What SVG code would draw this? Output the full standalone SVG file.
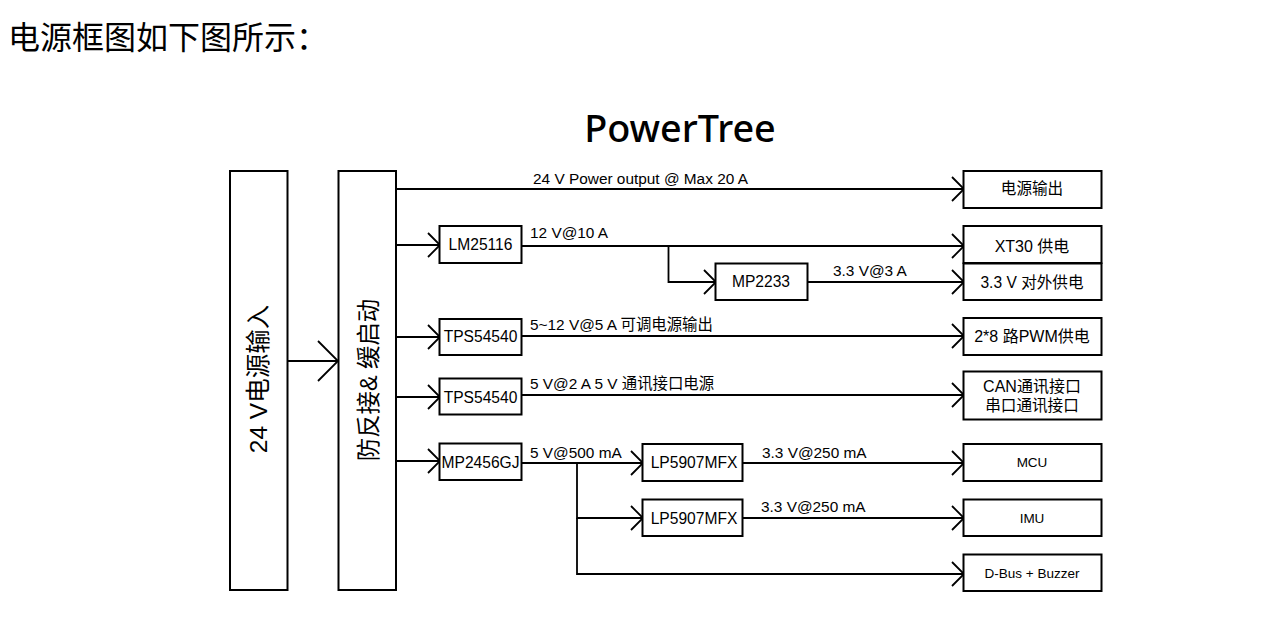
<svg xmlns="http://www.w3.org/2000/svg" width="1264" height="638" viewBox="0 0 1264 638">
<style>
text{font-family:"Liberation Sans","Noto Sans CJK SC",sans-serif;fill:#000}
.b{fill:#fff;stroke:#000;stroke-width:2}
.c{fill:none;stroke:#000;stroke-width:1.8;marker-end:url(#a)}
.n{font-size:15.6px;text-anchor:middle}
.s{font-size:13.5px;text-anchor:middle}
.t{font-size:15.4px}
</style>
<defs>
<marker id="a" markerWidth="16" markerHeight="28" refX="14" refY="14" orient="auto" markerUnits="userSpaceOnUse"><path d="M2 2L14 14L2 26" fill="none" stroke="#000" stroke-width="1.8"/></marker>
<marker id="big" markerWidth="24" markerHeight="44" refX="22" refY="22" orient="auto" markerUnits="userSpaceOnUse"><path d="M2 2L22 22L2 42" fill="none" stroke="#000" stroke-width="1.8"/></marker>
</defs>
<rect width="1264" height="638" fill="#fff"/>
<text x="8" y="49" font-size="32" style="font-family:'Noto Sans CJK SC',sans-serif">电源框图如下图所示：</text>
<text x="680" y="142" font-size="37.800" text-anchor="middle" font-weight="500" style="font-family:'Noto Sans','Noto Sans CJK SC',sans-serif">PowerTree</text>
<g id="connectors">
<path class="c" style="marker-end:url(#big)" d="M288 361H338"/>
<path class="c" d="M397 189H964"/>
<path class="c" d="M397 245H440"/>
<path class="c" d="M522 246H964"/>
<path class="c" d="M668.500 246V282H716"/>
<path class="c" d="M808 282H964"/>
<path class="c" d="M397 337H440"/>
<path class="c" d="M522 336H964"/>
<path class="c" d="M397 397H440"/>
<path class="c" d="M522 395H964"/>
<path class="c" d="M397 461H440"/>
<path class="c" d="M522 463H643"/>
<path class="c" d="M743 463H964"/>
<path class="c" d="M577 463V518H643"/>
<path class="c" d="M743 518H964"/>
<path class="c" d="M577 518V574H964"/>
</g>
<g id="n-input"><rect class="b" x="230" y="171" width="57.500" height="419"/><text transform="translate(267 379) rotate(-90)" font-size="24.500" text-anchor="middle">24 V电源输入</text></g>
<g id="n-protect"><rect class="b" x="338.500" y="171" width="57.500" height="419"/><text transform="translate(377 380) rotate(-90)" font-size="23.400" text-anchor="middle">防反接&amp; 缓启动</text></g>
<g id="n-lm"><rect class="b" x="439.500" y="226" width="82" height="37"/><text class="n" x="480.500" y="250">LM25116</text></g>
<g id="n-tps1"><rect class="b" x="439.500" y="319" width="82" height="36"/><text class="n" x="480.500" y="342">TPS54540</text></g>
<g id="n-tps2"><rect class="b" x="439.500" y="378.500" width="82" height="36"/><text class="n" x="480.500" y="403">TPS54540</text></g>
<g id="n-mp2456"><rect class="b" x="439.500" y="443.500" width="82" height="36.500"/><text class="n" x="480.500" y="468">MP2456GJ</text></g>
<g id="n-mp2233"><rect class="b" x="715.500" y="263.500" width="92" height="36.500"/><text class="n" x="761" y="287">MP2233</text></g>
<g id="n-lp1"><rect class="b" x="642.500" y="444" width="100" height="37"/><text class="n" x="694" y="468">LP5907MFX</text></g>
<g id="n-lp2"><rect class="b" x="642.500" y="499.500" width="100" height="36.500"/><text class="n" x="694" y="524">LP5907MFX</text></g>
<g id="n-out"><rect class="b" x="963.500" y="171" width="138" height="37"/><text class="n" x="1032" y="194">电源输出</text></g>
<g id="n-xt30"><rect class="b" x="963.500" y="226" width="138" height="37"/><text class="n" x="1032" y="252" style="font-size:16px">XT30 供电</text></g>
<g id="n-33"><rect class="b" x="963.500" y="263.500" width="138" height="36.500"/><text class="n" x="1032" y="288">3.3 V 对外供电</text></g>
<g id="n-pwm"><rect class="b" x="963.500" y="318" width="138" height="37"/><text class="n" x="1032" y="342" style="font-size:16px">2*8 路PWM供电</text></g>
<g id="n-can"><rect class="b" x="963.500" y="371.500" width="138" height="48"/><text class="n" x="1032" y="392" style="font-size:16px">CAN通讯接口</text><text class="n" x="1032" y="411">串口通讯接口</text></g>
<g id="n-mcu"><rect class="b" x="963.500" y="444" width="138" height="37"/><text class="s" x="1032" y="467">MCU</text></g>
<g id="n-imu"><rect class="b" x="963.500" y="499.500" width="138" height="36.500"/><text class="s" x="1032" y="523">IMU</text></g>
<g id="n-dbus"><rect class="b" x="963.500" y="554.500" width="138" height="36.500"/><text class="s" x="1032" y="578">D-Bus + Buzzer</text></g>
<text class="t" x="533" y="184">24 V Power output @ Max 20 A</text>
<text class="t" x="530" y="238">12 V@10 A</text>
<text class="t" x="833" y="276">3.3 V@3 A</text>
<text class="t" x="530" y="330">5~12 V@5 A 可调电源输出</text>
<text class="t" x="530" y="389">5 V@2 A 5 V 通讯接口电源</text>
<text class="t" x="530" y="458">5 V@500 mA</text>
<text class="t" x="762" y="458">3.3 V@250 mA</text>
<text class="t" x="761" y="512">3.3 V@250 mA</text>
</svg>
